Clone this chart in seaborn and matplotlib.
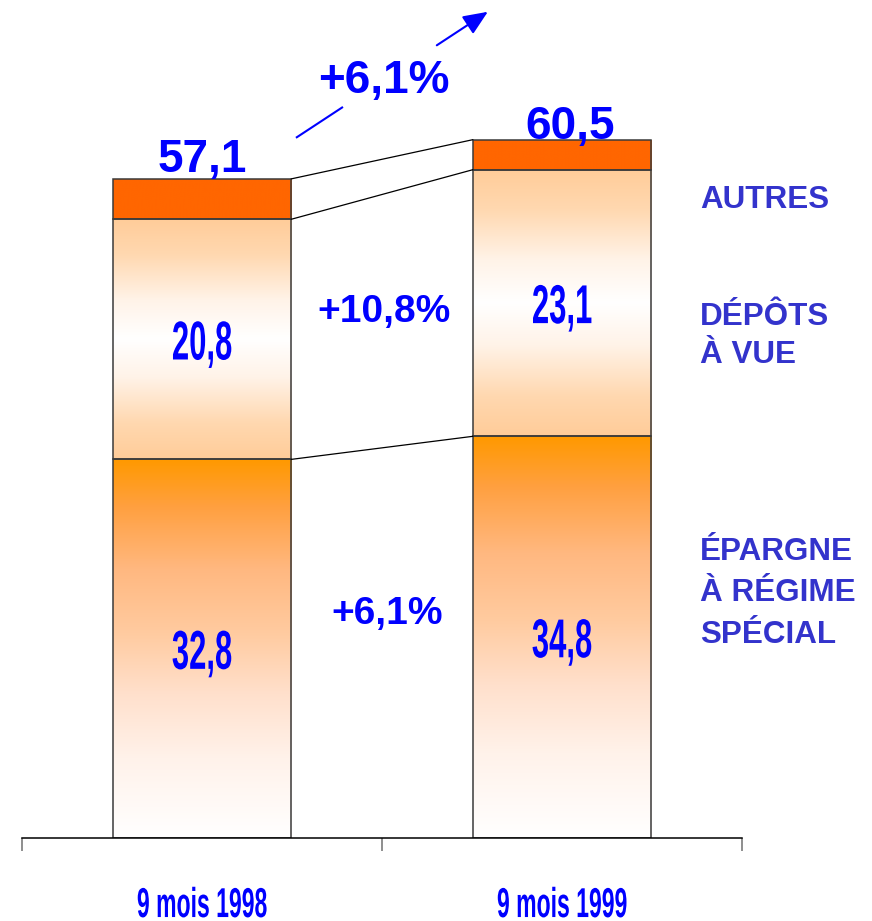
import matplotlib
matplotlib.use("Agg")
import matplotlib.pyplot as plt
import matplotlib.patheffects as pe
from matplotlib.colors import LinearSegmentedColormap
from matplotlib.transforms import Affine2D
import numpy as np
import pandas as pd
import seaborn as sns

# chart data
periods = ["9 mois 1998", "9 mois 1999"]
epargne = [32.8, 34.8]
depots = [20.8, 23.1]
autres = [3.5, 2.6]
totals = [57.1, 60.5]
value_labels_epargne = ["32,8", "34,8"]
value_labels_depots = ["20,8", "23,1"]
total_labels = ["57,1", "60,5"]
growth_total = "+6,1%"
growth_depots = "+10,8%"
growth_epargne = "+6,1%"
segment_names = ["ÉPARGNE\nÀ RÉGIME\nSPÉCIAL", "DÉPÔTS\nÀ VUE", "AUTRES"]

BLUE = "#0000FF"
LEGEND_BLUE = "#3333CC"
EDGE = "#3a3a3a"
BAR_W = 0.495


class Stretch(pe.AbstractPathEffect):
    """Squeeze/stretch glyphs around their centre (narrow, tall digits)."""

    def __init__(self, sx=1.0, sy=1.0):
        super().__init__()
        self.sx = sx
        self.sy = sy

    def draw_path(self, renderer, gc, tpath, affine, rgbFace=None):
        ext = tpath.get_extents(affine)
        cx = (ext.x0 + ext.x1) / 2
        cy = (ext.y0 + ext.y1) / 2
        affine = affine + Affine2D().translate(-cx, -cy).scale(self.sx, self.sy).translate(cx, cy)
        renderer.draw_path(gc, tpath, affine, rgbFace)


def gradient_fill(ax, patch, stops):
    x0, y0 = patch.get_x(), patch.get_y()
    w, h = patch.get_width(), patch.get_height()
    cmap = LinearSegmentedColormap.from_list("seg", stops)
    grad = np.linspace(0, 1, 256).reshape(-1, 1)
    im = ax.imshow(grad, cmap=cmap, extent=(x0, x0 + w, y0, y0 + h),
                   origin="lower", aspect="auto", zorder=1, interpolation="bilinear")
    im.set_clip_path(patch)
    patch.set_facecolor("none")
    patch.set_zorder(2)


epargne_stops = [(0.0, "#FFFFFF"), (0.21, "#FFF2EA"), (0.38, "#FFE0CC"), (0.54, "#FFCBA0"),
                 (0.71, "#FFB880"), (0.875, "#FFA040"), (1.0, "#FF9900")]
depots_stops = [(0.0, "#FFCC99"), (0.15, "#FFD8B0"), (0.34, "#FFF3E8"), (0.5, "#FFFFFF"),
                (0.66, "#FFF3E8"), (0.85, "#FFD8B0"), (1.0, "#FFCC99")]
autres_stops = [(0.0, "#FF6600"), (1.0, "#FF6600")]

sns.set_style("white")
plt.rcParams["font.family"] = ["Liberation Sans", "DejaVu Sans"]

fig = plt.figure(figsize=(8.72, 9.21), dpi=100)
ax = fig.add_axes([22 / 872, 83 / 921, 720 / 872, 838 / 921])

df = pd.DataFrame({"period": periods, "epargne": epargne, "depots": depots, "autres": autres})

bottoms = np.zeros(len(periods))
levels = []
for col, stops in [("epargne", epargne_stops), ("depots", depots_stops), ("autres", autres_stops)]:
    n_before = len(ax.patches)
    sns.barplot(data=df, x="period", y=col, bottom=bottoms, width=BAR_W, color="white",
                edgecolor=EDGE, linewidth=1.1, errorbar=None, ax=ax)
    for p in ax.patches[n_before:]:
        gradient_fill(ax, p, stops)
    bottoms = bottoms + df[col].to_numpy()
    levels.append(bottoms.copy())

ax.set_xlim(-0.5, 1.5)
ax.set_ylim(0, 72.6)

# connector lines between the two bars
for lvl in levels:
    ax.plot([BAR_W / 2, 1 - BAR_W / 2], lvl, color="black", lw=0.9, zorder=3)

# values inside the segments
stretch_vals = [Stretch(0.77, 1.36)]
for i in range(len(periods)):
    ax.text(i, epargne[i] / 2 - 0.45, value_labels_epargne[i], ha="center", va="center",
            fontsize=29, fontweight="bold", color=BLUE, zorder=4, path_effects=stretch_vals)
    ax.text(i, epargne[i] + depots[i] / 2 - 0.45, value_labels_depots[i], ha="center", va="center",
            fontsize=29, fontweight="bold", color=BLUE, zorder=4, path_effects=stretch_vals)

# totals above the bars
ax.text(0, totals[0] + 1.65, total_labels[0], ha="center", va="center",
        fontsize=33, fontweight="bold", color=BLUE, zorder=4)
ax.text(1.022, totals[1] + 1.1, total_labels[1], ha="center", va="center",
        fontsize=33, fontweight="bold", color=BLUE, zorder=4)

# growth rates
ax.text(0.506, 65.55, growth_total, ha="center", va="center",
        fontsize=33, fontweight="bold", color=BLUE)
ax.text(0.506, 45.6, growth_depots, ha="center", va="center",
        fontsize=28, fontweight="bold", color=BLUE)
ax.text(0.514, 19.4, growth_epargne, ha="center", va="center",
        fontsize=28, fontweight="bold", color=BLUE)

# growth arrow, broken around the label
xa, ya, xb, yb = 0.261, 60.66, 0.794, 71.58
t1, t2 = 0.245, 0.734
ax.plot([xa, xa + t1 * (xb - xa)], [ya, ya + t1 * (yb - ya)], color=BLUE, lw=1.5,
        solid_capstyle="butt")
ax.annotate("", xy=(xb, yb), xytext=(xa + t2 * (xb - xa), ya + t2 * (yb - ya)),
            arrowprops=dict(arrowstyle="-|>,head_length=0.75,head_width=0.32", color=BLUE,
                            lw=1.5, mutation_scale=20, shrinkA=0, shrinkB=0))

# segment names on the right
ax.text(1.383, 55.3, segment_names[2], ha="left", va="center", fontsize=22.6,
        fontweight="bold", color=LEGEND_BLUE)
ax.text(1.383, 43.5, segment_names[1], ha="left", va="center", fontsize=22.6,
        fontweight="bold", color=LEGEND_BLUE, linespacing=1.33)
ax.text(1.383, 21.2, segment_names[0], ha="left", va="center", fontsize=22.6,
        fontweight="bold", color=LEGEND_BLUE, linespacing=1.5)

# axes styling
sns.despine(ax=ax, left=True, top=True, right=True)
ax.spines["bottom"].set_color("black")
ax.spines["bottom"].set_linewidth(1.1)
ax.set_yticks([])
ax.set_xlabel("")
ax.set_ylabel("")
ax.set_xticks([-0.5, 0.5, 1.5])
ax.set_xticklabels([])
ax.set_xticks([0, 1], minor=True)
ax.set_xticklabels(periods, minor=True)
ax.tick_params(axis="x", which="major", bottom=True, length=9.5, width=1.1,
               color="#707070", direction="out")
ax.tick_params(axis="x", which="minor", bottom=True, length=0, pad=38, labelsize=21.5,
               labelcolor=BLUE)
for lab in ax.get_xticklabels(minor=True):
    lab.set_fontweight("bold")
    lab.set_path_effects([Stretch(0.77, 1.4)])

fig.savefig("out.png", dpi=100)
plt.close(fig)
